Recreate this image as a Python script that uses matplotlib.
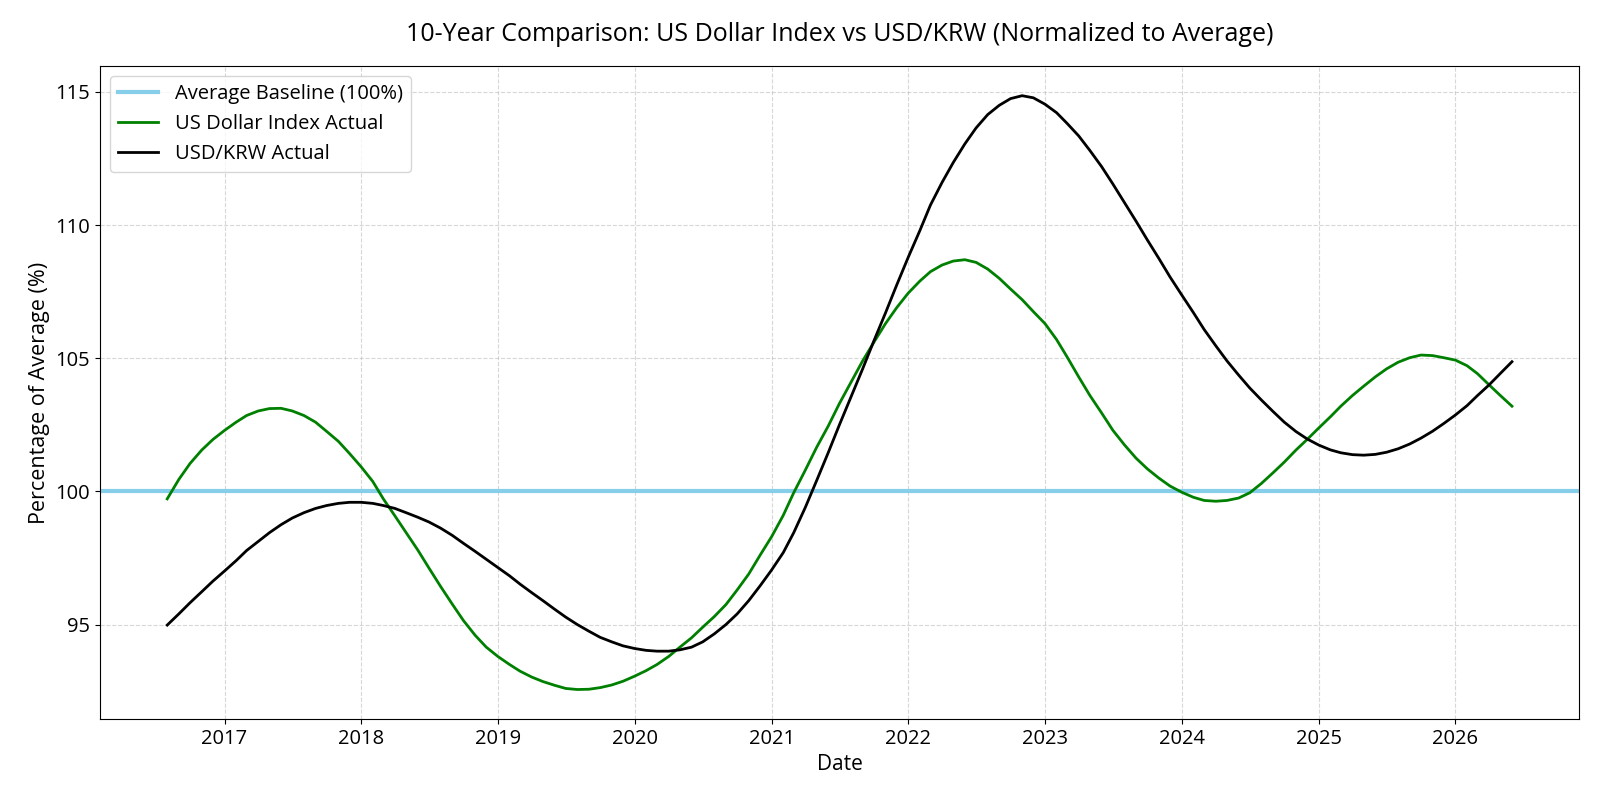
import matplotlib
matplotlib.use("Agg")
import matplotlib.pyplot as plt
import matplotlib.dates as mdates
import pandas as pd

plt.rcParams['font.family'] = ['Open Sans', 'DejaVu Sans']

# monthly samples, Aug 2016 .. Jun 2026
dates = pd.date_range("2016-08-01", "2026-06-01", freq="MS")

dxy_pct = [
    99.72, 100.45, 101.05, 101.55, 101.95,                                              # 2016
    102.29, 102.6, 102.85, 103.02, 103.11, 103.12, 103.02, 102.85, 102.6, 102.25, 101.88, 101.42,  # 2017
    100.92, 100.37, 99.72, 99.08, 98.45, 97.8, 97.12, 96.43, 95.77, 95.15, 94.6, 94.15,  # 2018
    93.8, 93.5, 93.25, 93.03, 92.86, 92.72, 92.6, 92.56, 92.57, 92.63, 92.73, 92.87,     # 2019
    93.06, 93.27, 93.5, 93.8, 94.15, 94.5, 94.9, 95.3, 95.75, 96.3, 96.9, 97.6,          # 2020
    98.3, 99.1, 99.95, 100.8, 101.65, 102.45, 103.3, 104.1, 104.9, 105.6, 106.3, 106.9,  # 2021
    107.45, 107.9, 108.25, 108.5, 108.65, 108.7, 108.6, 108.35, 108.0, 107.6, 107.2, 106.75,  # 2022
    106.3, 105.7, 105.05, 104.3, 103.6, 102.95, 102.3, 101.75, 101.25, 100.85, 100.5, 100.2,  # 2023
    99.97, 99.78, 99.66, 99.63, 99.66, 99.75, 99.95, 100.3, 100.7, 101.1, 101.55, 101.95,  # 2024
    102.38, 102.8, 103.2, 103.6, 103.95, 104.3, 104.6, 104.85, 105.02, 105.12, 105.1, 105.02,  # 2025
    104.93, 104.72, 104.42, 104.0, 103.6, 103.2,                                          # 2026
]

krw_pct = [
    94.98, 95.4, 95.82, 96.23, 96.63,                                                    # 2016
    97.01, 97.4, 97.78, 98.12, 98.45, 98.75, 99.0, 99.2, 99.36, 99.47, 99.55, 99.59,     # 2017
    99.59, 99.55, 99.47, 99.36, 99.2, 99.03, 98.85, 98.62, 98.35, 98.05, 97.75, 97.45,   # 2018
    97.14, 96.83, 96.52, 96.2, 95.9, 95.58, 95.28, 95.0, 94.75, 94.52, 94.35, 94.2,      # 2019
    94.1, 94.03, 94.0, 94.0, 94.05, 94.15, 94.35, 94.65, 95.0, 95.4, 95.9, 96.45,        # 2020
    97.05, 97.7, 98.45, 99.4, 100.4, 101.45, 102.5, 103.55, 104.6, 105.65, 106.7, 107.75,  # 2021
    108.8, 109.8, 110.75, 111.6, 112.35, 113.05, 113.65, 114.15, 114.5, 114.75, 114.86, 114.78,  # 2022
    114.54, 114.22, 113.82, 113.35, 112.8, 112.2, 111.55, 110.85, 110.15, 109.45, 108.75, 108.05,  # 2023
    107.38, 106.72, 106.08, 105.47, 104.9, 104.37, 103.88, 103.43, 103.0, 102.6, 102.25, 101.97,  # 2024
    101.74, 101.56, 101.45, 101.38, 101.36, 101.39, 101.47, 101.6, 101.78, 102.0, 102.26, 102.55,  # 2025
    102.87, 103.22, 103.6, 104.0, 104.43, 104.87,                                        # 2026
]

baseline = 100

fig, ax = plt.subplots(figsize=(16, 8), dpi=100)
fig.subplots_adjust(left=0.0625, right=0.987, top=0.9175, bottom=0.101)

ax.axhline(baseline, color="skyblue", linewidth=3, label="Average Baseline (100%)")
ax.plot(dates, dxy_pct, color="green", linewidth=2, label="US Dollar Index Actual")
ax.plot(dates, krw_pct, color="black", linewidth=2, label="USD/KRW Actual")

ax.set_title("10-Year Comparison: US Dollar Index vs USD/KRW (Normalized to Average)",
             fontsize=18, pad=18)
ax.set_xlabel("Date", fontsize=15)
ax.set_ylabel("Percentage of Average (%)", fontsize=15.5)
ax.tick_params(labelsize=14.5)
ax.xaxis.set_major_locator(mdates.YearLocator())
ax.xaxis.set_major_formatter(mdates.DateFormatter("%Y"))
ax.grid(True, linestyle="--", alpha=0.5)
ax.legend(loc="upper left", fontsize=14.5)

plt.savefig("out.png")
